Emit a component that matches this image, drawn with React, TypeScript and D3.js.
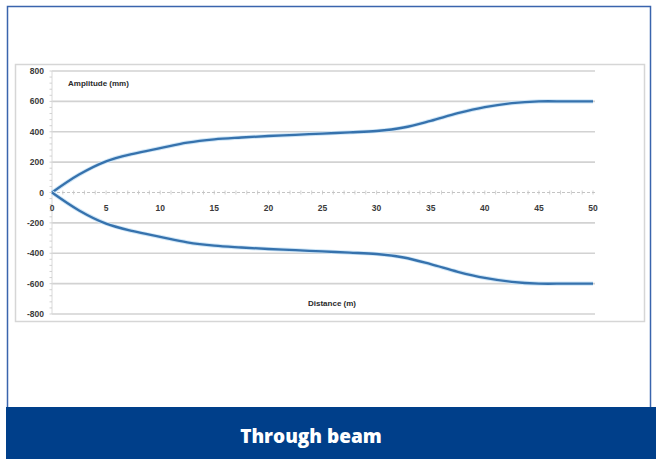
import React, { useEffect, useRef } from "react";
import * as d3 from "d3";

// Values
const distance = [0, 2.5, 5, 7.5, 10, 12.5, 15, 17.5, 20, 22.5, 25, 27.5, 30, 32.5, 35, 37.5, 40, 42.5, 45, 47.5, 50];
const upperAmplitude = [0, 118, 205, 255, 292, 328, 350, 362, 372, 380, 388, 396, 405, 428, 472, 522, 562, 588, 600, 600, 600];
const lowerAmplitude = [0, -118, -205, -255, -292, -328, -350, -362, -372, -380, -388, -396, -405, -428, -472, -522, -562, -588, -600, -600, -600];
const xTicks = [0, 5, 10, 15, 20, 25, 30, 35, 40, 45, 50];
const yTicks = [800, 600, 400, 200, 0, -200, -400, -600, -800];
const title = "Through beam";

const App: React.FC = () => {
  const svgRef = useRef<SVGSVGElement | null>(null);

  useEffect(() => {
    const width = 656;
    const height = 459;
    const svg = d3.select(svgRef.current).attr("width", width).attr("height", height);
    svg.selectAll("*").remove();

    // outer frame
    svg
      .append("rect")
      .attr("x", 7.5)
      .attr("y", 6.5)
      .attr("width", 643)
      .attr("height", 410)
      .attr("fill", "#fff")
      .attr("stroke", "#3a64ad")
      .attr("stroke-width", 1.5);

    // chart area box
    svg
      .append("rect")
      .attr("x", 15.5)
      .attr("y", 64.5)
      .attr("width", 629)
      .attr("height", 257)
      .attr("fill", "#fff")
      .attr("stroke", "#d6d6d6")
      .attr("stroke-width", 1.5);

    const xScale = d3.scaleLinear().domain([0, 50]).range([52, 593]);
    const yScale = d3.scaleLinear().domain([-800, 800]).range([314, 71]);

    // gridlines
    svg
      .append("g")
      .selectAll("line")
      .data(yTicks.filter((d) => d !== 0))
      .enter()
      .append("line")
      .attr("x1", xScale(0))
      .attr("x2", xScale(50) + 2)
      .attr("y1", (d) => yScale(d))
      .attr("y2", (d) => yScale(d))
      .attr("stroke", "#d2d2d2")
      .attr("stroke-width", 1.6);

    // y axis line + minor ticks
    svg
      .append("line")
      .attr("x1", xScale(0))
      .attr("x2", xScale(0))
      .attr("y1", yScale(800))
      .attr("y2", yScale(-800))
      .attr("stroke", "#dadada")
      .attr("stroke-width", 1);
    const yMinor = d3.range(-800, 801, 40);
    svg
      .append("g")
      .selectAll("line")
      .data(yMinor)
      .enter()
      .append("line")
      .attr("x1", xScale(0) - 2.5)
      .attr("x2", xScale(0))
      .attr("y1", (d) => yScale(d))
      .attr("y2", (d) => yScale(d))
      .attr("stroke", "#c8c8c8")
      .attr("stroke-width", 0.8);

    // zero axis, dashed with minor ticks
    svg
      .append("line")
      .attr("x1", xScale(0))
      .attr("x2", xScale(50) + 2)
      .attr("y1", yScale(0))
      .attr("y2", yScale(0))
      .attr("stroke", "#c4c4c4")
      .attr("stroke-width", 1)
      .attr("stroke-dasharray", "3,2");
    svg
      .append("g")
      .selectAll("line")
      .data(d3.range(0, 50.1, 1))
      .enter()
      .append("line")
      .attr("x1", (d) => xScale(d))
      .attr("x2", (d) => xScale(d))
      .attr("y1", yScale(0) - 2)
      .attr("y2", yScale(0) + 2)
      .attr("stroke", "#c4c4c4")
      .attr("stroke-width", 0.8);

    // tick labels
    const labelFont = "'Liberation Sans', Arial, sans-serif";
    svg
      .append("g")
      .selectAll("text")
      .data(yTicks)
      .enter()
      .append("text")
      .attr("x", 44)
      .attr("y", (d) => yScale(d) + 3)
      .attr("text-anchor", "end")
      .attr("font-family", labelFont)
      .attr("font-size", 8.5)
      .attr("font-weight", "bold")
      .attr("fill", "#3a3a3a")
      .text((d) => d);

    svg
      .append("g")
      .selectAll("text")
      .data(xTicks)
      .enter()
      .append("text")
      .attr("x", (d) => xScale(d))
      .attr("y", yScale(0) + 18)
      .attr("text-anchor", "middle")
      .attr("font-family", labelFont)
      .attr("font-size", 8.5)
      .attr("font-weight", "bold")
      .attr("fill", "#3a3a3a")
      .text((d) => d);

    svg
      .append("text")
      .attr("x", 68)
      .attr("y", 86)
      .attr("font-family", labelFont)
      .attr("font-size", 8)
      .attr("font-weight", "bold")
      .attr("fill", "#2a2a2a")
      .text("Amplitude (mm)");

    svg
      .append("text")
      .attr("x", 332)
      .attr("y", 306)
      .attr("text-anchor", "middle")
      .attr("font-family", labelFont)
      .attr("font-size", 8)
      .attr("font-weight", "bold")
      .attr("fill", "#2a2a2a")
      .text("Distance (m)");

    // curves (Excel-style smoothed lines)
    const line = d3
      .line<number>()
      .x((_, i) => xScale(distance[i]))
      .y((d) => yScale(d))
      .curve(d3.curveCatmullRom.alpha(0.5));

    [upperAmplitude, lowerAmplitude].forEach((series) => {
      svg
        .append("path")
        .attr("d", line(series))
        .attr("fill", "none")
        .attr("stroke", "#cfe6f7")
        .attr("stroke-width", 4.2);
      svg
        .append("path")
        .attr("d", line(series))
        .attr("fill", "none")
        .attr("stroke", "#3672ad")
        .attr("stroke-width", 2.3);
    });

    // bottom band
    svg
      .append("rect")
      .attr("x", 6)
      .attr("y", 407)
      .attr("width", 650)
      .attr("height", 52)
      .attr("fill", "#003f8a");

    svg
      .append("text")
      .attr("x", 311)
      .attr("y", 443)
      .attr("text-anchor", "middle")
      .attr("font-family", "'Open Sans', 'Noto Sans', sans-serif")
      .attr("font-size", 19)
      .attr("font-weight", 800)
      .attr("fill", "#ffffff")
      .text(title);
  }, []);

  return (
    <div style={{ position: "absolute", left: 0, top: 0 }}>
      <svg ref={svgRef}></svg>
    </div>
  );
};

export default App;
